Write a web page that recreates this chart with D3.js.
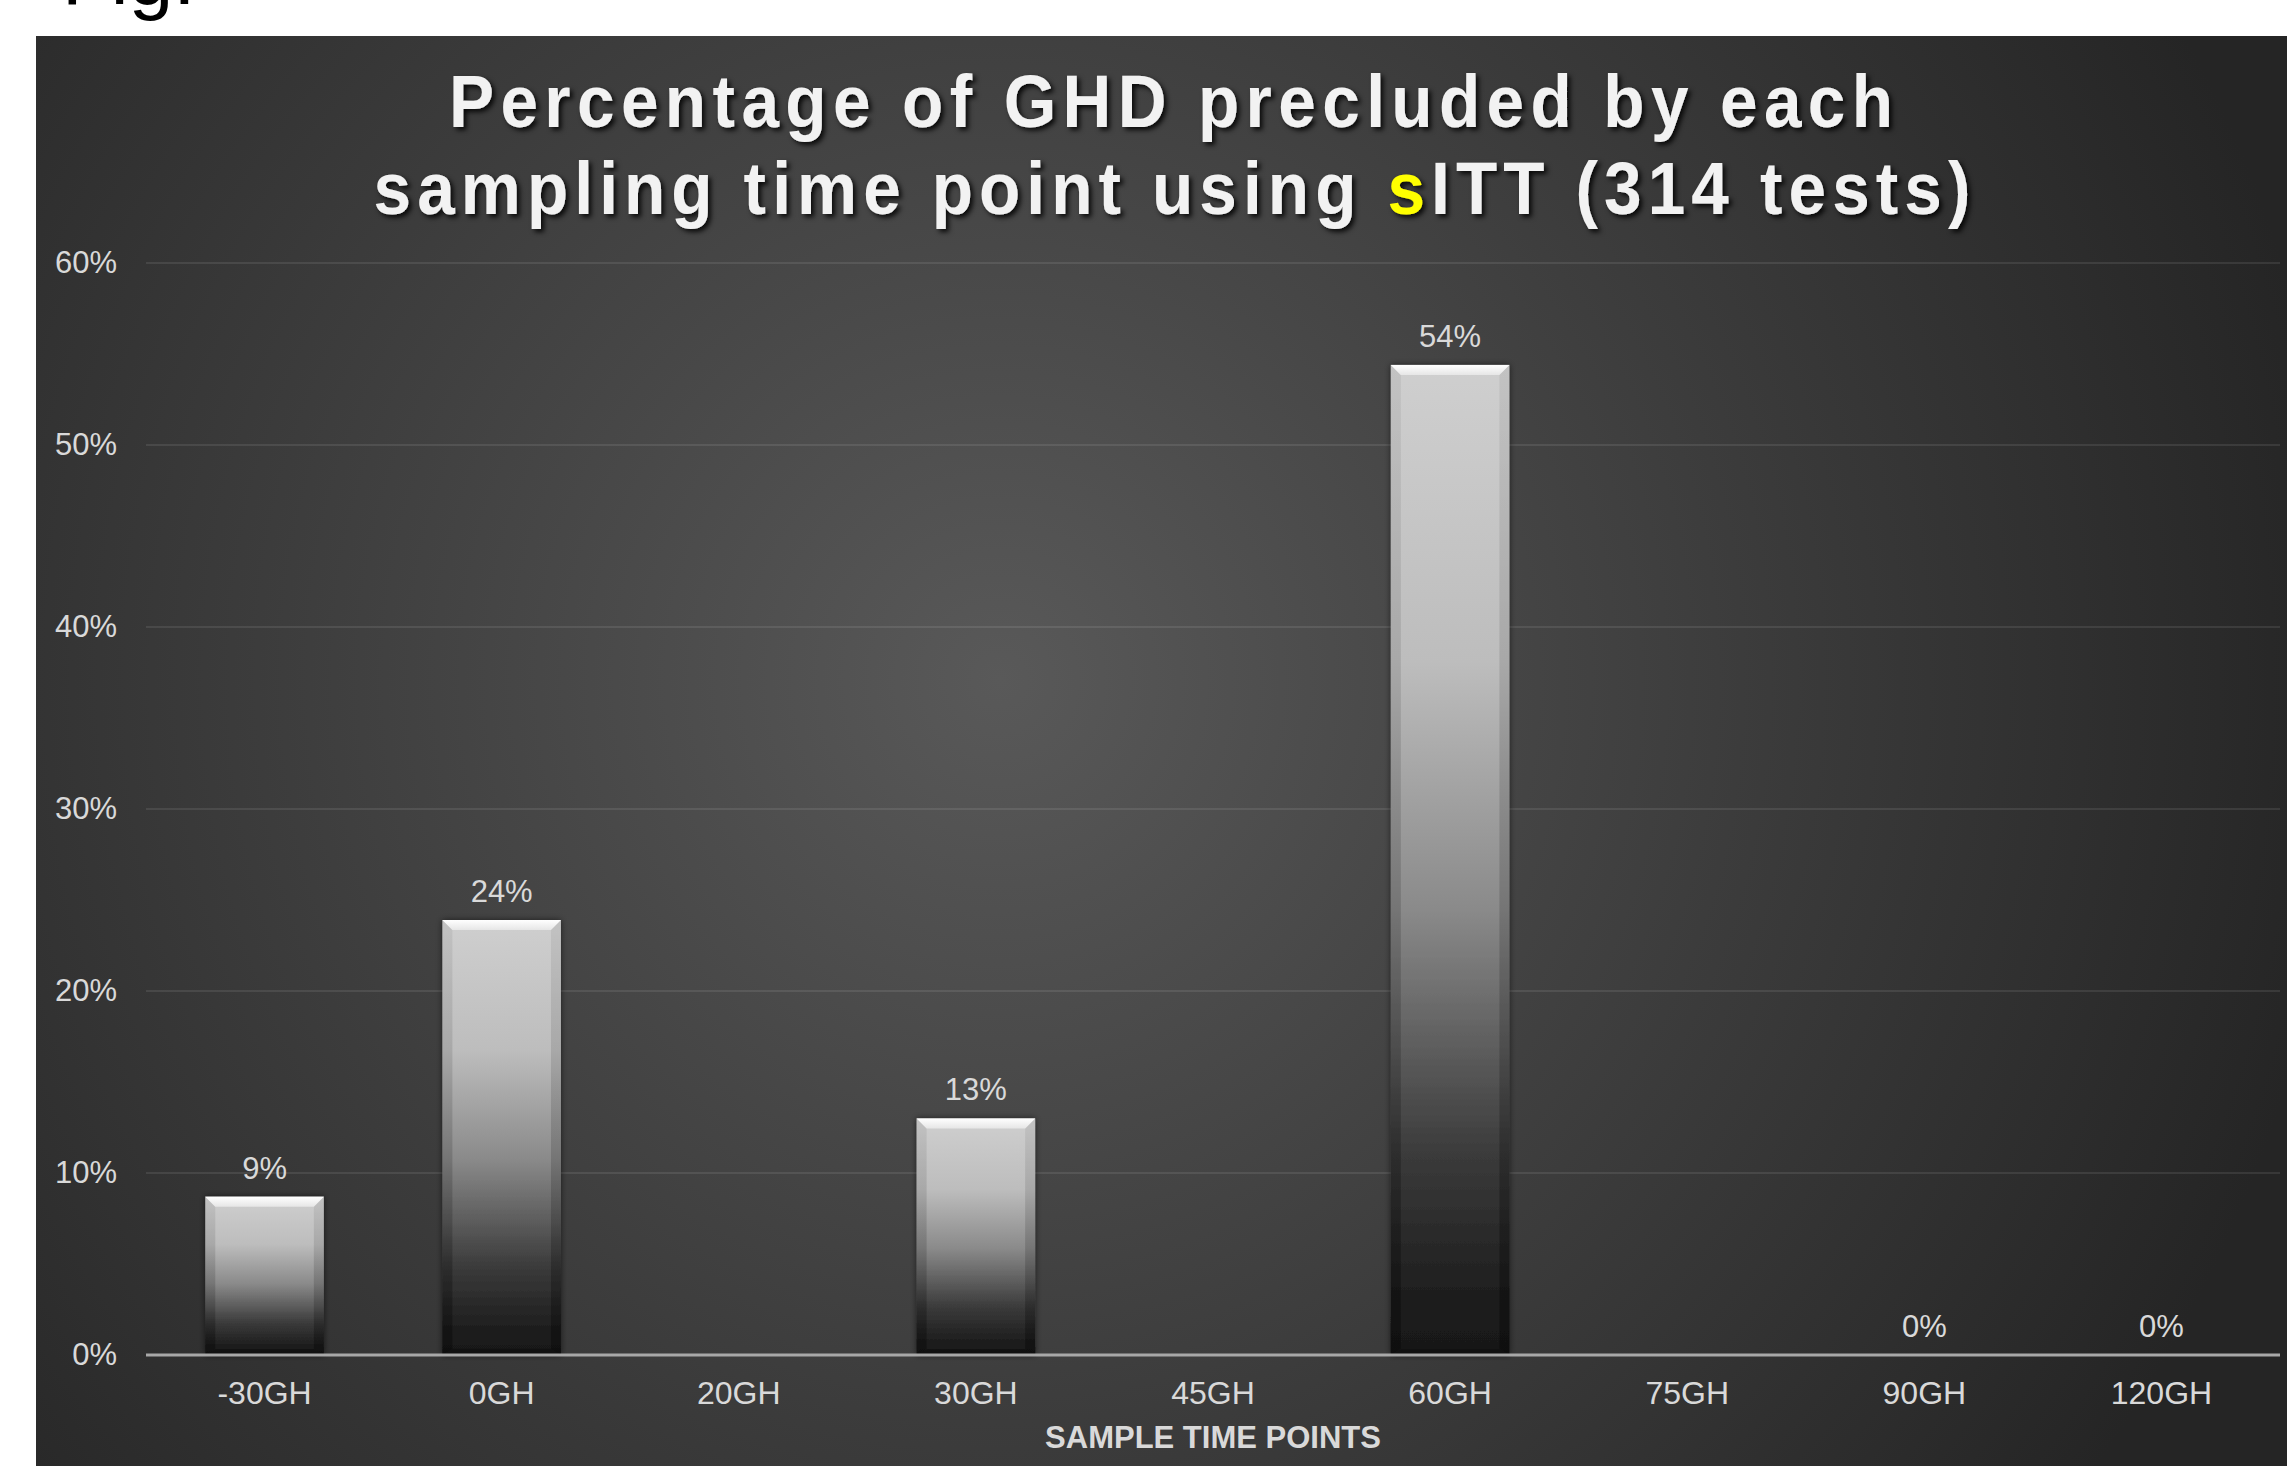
<!DOCTYPE html>
<html>
<head>
<meta charset="utf-8">
<script src="https://cdn.jsdelivr.net/npm/d3@7"></script>
<style>
  html, body { margin: 0; padding: 0; background: #ffffff; }
  svg { display: block; }
</style>
</head>
<body>
<svg id="chart" width="2287" height="1466"></svg>
<script>
// Share of GHD cases precluded at each sampling time point (sITT, 314 tests)
const categories = ["-30GH", "0GH", "20GH", "30GH", "45GH", "60GH", "75GH", "90GH", "120GH"];
const values = [8.7, 23.9, null, 13.0, null, 54.4, null, 0, 0];
const yTicks = [0, 10, 20, 30, 40, 50, 60];
const titleLine1 = "Percentage of GHD precluded by each";
const titleLine2 = ["sampling time point using ", "s", "ITT (314 tests)"];
const xAxisTitle = "SAMPLE TIME POINTS";

const W = 2287, H = 1466;
const panel = { x: 36, y: 36, w: W - 36, h: H - 36 };
const plot = { left: 146, right: 2280, top: 263, bottom: 1355 };

const svg = d3.select("#chart");
const defs = svg.append("defs");

// Panel background: soft radial light
const bg = defs.append("radialGradient")
  .attr("id", "bgGrad")
  .attr("gradientUnits", "userSpaceOnUse")
  .attr("cx", 1000).attr("cy", 680).attr("r", 1350);
bg.append("stop").attr("offset", "0").attr("stop-color", "#595959");
bg.append("stop").attr("offset", "0.55").attr("stop-color", "#3c3c3c");
bg.append("stop").attr("offset", "1").attr("stop-color", "#252525");

// Bar body: light top fading to near-black base
const barGrad = defs.append("linearGradient")
  .attr("id", "barGrad").attr("x1", 0).attr("y1", 0).attr("x2", 0).attr("y2", 1);
[[0, "#cfcfcf"], [0.3, "#bdbdbd"], [0.55, "#8a8a8a"], [0.8, "#3a3a3a"], [0.95, "#1c1c1c"], [1, "#181818"]]
  .forEach(([o, c]) => barGrad.append("stop").attr("offset", o).attr("stop-color", c));

const topBevel = defs.append("linearGradient")
  .attr("id", "topBevel").attr("x1", 0).attr("y1", 0).attr("x2", 0).attr("y2", 1);
topBevel.append("stop").attr("offset", 0).attr("stop-color", "#ffffff");
topBevel.append("stop").attr("offset", 1).attr("stop-color", "#e6e6e6");

const sideBevel = defs.append("linearGradient")
  .attr("id", "sideBevel").attr("x1", 0).attr("y1", 0).attr("x2", 0).attr("y2", 1);
sideBevel.append("stop").attr("offset", 0).attr("stop-color", "#000").attr("stop-opacity", 0.06);
sideBevel.append("stop").attr("offset", 0.7).attr("stop-color", "#000").attr("stop-opacity", 0.18);
sideBevel.append("stop").attr("offset", 1).attr("stop-color", "#000").attr("stop-opacity", 0.35);

const titleShadow = defs.append("filter").attr("id", "titleShadow")
  .attr("x", "-5%").attr("y", "-20%").attr("width", "110%").attr("height", "150%");
titleShadow.append("feDropShadow")
  .attr("dx", 3).attr("dy", 3).attr("stdDeviation", 2.5)
  .attr("flood-color", "#000").attr("flood-opacity", 0.85);

const barShadow = defs.append("filter").attr("id", "barShadow")
  .attr("x", "-20%").attr("y", "-5%").attr("width", "140%").attr("height", "110%");
barShadow.append("feDropShadow")
  .attr("dx", 0).attr("dy", 0).attr("stdDeviation", 3)
  .attr("flood-color", "#000").attr("flood-opacity", 0.6);

// Figure caption above the panel (only its lower edge shows)
svg.append("text")
  .attr("x", 62).attr("y", 4)
  .attr("font-family", "'Liberation Sans', Arial, sans-serif")
  .attr("font-size", 80)
  .attr("fill", "#000")
  .text("Fig.");

svg.append("rect")
  .attr("x", panel.x).attr("y", panel.y)
  .attr("width", panel.w).attr("height", panel.h)
  .attr("fill", "url(#bgGrad)");

// Scales
const x = d3.scaleBand()
  .domain(categories)
  .range([plot.left, plot.right])
  .paddingInner(0.5)
  .paddingOuter(0.25);

const y = d3.scaleLinear()
  .domain([0, 60])
  .range([plot.bottom, plot.top]);

const pct = v => d3.format(".0f")(v) + "%";
const labelFont = "'Liberation Sans', Arial, sans-serif";

// Gridlines
svg.append("g")
  .selectAll("line")
  .data(yTicks.filter(t => t > 0))
  .join("line")
  .attr("x1", plot.left).attr("x2", plot.right)
  .attr("y1", d => y(d)).attr("y2", d => y(d))
  .attr("stroke", "#ffffff").attr("stroke-opacity", 0.09)
  .attr("stroke-width", 2);

// Y axis labels
const yAxis = svg.append("g")
  .attr("transform", `translate(${plot.left},0)`)
  .call(d3.axisLeft(y).tickValues(yTicks).tickSize(0).tickPadding(29).tickFormat(d => d + "%"));
yAxis.select(".domain").remove();
yAxis.selectAll("text")
  .attr("font-family", labelFont).attr("font-size", 31)
  .attr("fill", "#d9d9d9");

// Bars
const barData = categories.map((c, i) => ({ cat: c, v: values[i] })).filter(d => d.v !== null);
const bevel = 10;

const bars = svg.append("g").selectAll("g.bar")
  .data(barData.filter(d => d.v > 0))
  .join("g").attr("class", "bar");

bars.append("rect")
  .attr("x", d => x(d.cat)).attr("y", d => y(d.v))
  .attr("width", x.bandwidth()).attr("height", d => y(0) - y(d.v))
  .attr("fill", "url(#barGrad)")
  .attr("filter", "url(#barShadow)");

// Side bevels
bars.append("path")
  .attr("d", d => {
    const x0 = x(d.cat), x1 = x0 + x.bandwidth(), t = y(d.v), b = y(0);
    return `M${x0},${t} L${x0 + bevel},${t + bevel} L${x0 + bevel},${b - bevel * 0.6} L${x0},${b} Z` +
           `M${x1},${t} L${x1 - bevel},${t + bevel} L${x1 - bevel},${b - bevel * 0.6} L${x1},${b} Z`;
  })
  .attr("fill", "url(#sideBevel)");

// Bottom bevel
bars.append("path")
  .attr("d", d => {
    const x0 = x(d.cat), x1 = x0 + x.bandwidth(), b = y(0);
    return `M${x0},${b} L${x0 + bevel},${b - bevel * 0.6} L${x1 - bevel},${b - bevel * 0.6} L${x1},${b} Z`;
  })
  .attr("fill", "#101010").attr("fill-opacity", 0.8);

// Top bevel highlight
bars.append("path")
  .attr("d", d => {
    const x0 = x(d.cat), x1 = x0 + x.bandwidth(), t = y(d.v);
    return `M${x0},${t} L${x1},${t} L${x1 - bevel},${t + bevel} L${x0 + bevel},${t + bevel} Z`;
  })
  .attr("fill", "url(#topBevel)");

// X axis baseline
svg.append("line")
  .attr("x1", plot.left).attr("x2", plot.right)
  .attr("y1", y(0)).attr("y2", y(0))
  .attr("stroke", "#a8a8a8").attr("stroke-width", 3);

// Value labels
svg.append("g").selectAll("text")
  .data(barData)
  .join("text")
  .attr("x", d => x(d.cat) + x.bandwidth() / 2)
  .attr("y", d => y(d.v) - 18)
  .attr("text-anchor", "middle")
  .attr("font-family", labelFont).attr("font-size", 31)
  .attr("fill", "#d9d9d9")
  .text(d => pct(d.v));

// X axis labels
const xAxis = svg.append("g")
  .attr("transform", `translate(0,${plot.bottom})`)
  .call(d3.axisBottom(x).tickSize(0).tickPadding(26));
xAxis.select(".domain").remove();
xAxis.selectAll("text")
  .attr("font-family", labelFont).attr("font-size", 32)
  .attr("fill", "#d9d9d9");

svg.append("text")
  .attr("x", (plot.left + plot.right) / 2).attr("y", 1448)
  .attr("text-anchor", "middle")
  .attr("font-family", labelFont).attr("font-size", 31).attr("font-weight", "bold")
  .attr("fill", "#d9d9d9")
  .text(xAxisTitle);

// Title: bold face, narrowed horizontally and spread to the line width
const titleScale = 0.9;
const title = svg.append("g").attr("filter", "url(#titleShadow)")
  .attr("font-family", "'Liberation Sans', Arial, sans-serif")
  .attr("font-weight", "bold").attr("font-size", 75)
  .attr("fill", "#f2f2f2");

title.append("text")
  .attr("transform", `translate(1171,127) scale(${titleScale},1)`)
  .attr("text-anchor", "middle")
  .attr("textLength", 1444 / titleScale).attr("lengthAdjust", "spacing")
  .text(titleLine1);

const t2 = title.append("text")
  .attr("transform", `translate(1172,214) scale(${titleScale},1)`)
  .attr("text-anchor", "middle")
  .attr("textLength", 1597 / titleScale).attr("lengthAdjust", "spacing");
t2.append("tspan").text(titleLine2[0]);
t2.append("tspan").attr("fill", "#ffff00").text(titleLine2[1]);
t2.append("tspan").text(titleLine2[2]);
</script>
</body>
</html>
